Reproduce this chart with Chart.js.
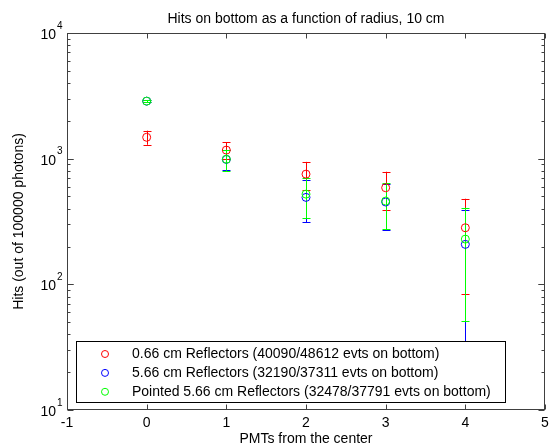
<!DOCTYPE html>
<html><head><meta charset="utf-8">
<script src="https://cdn.jsdelivr.net/npm/chart.js@4/dist/chart.umd.min.js"></script>
<style>html,body{margin:0;padding:0;background:#fff}#wrap{width:550px;height:448px}</style>
</head><body><div id="wrap"><canvas id="c" width="550" height="448"></canvas></div>
<script>
const xPositions = [0, 1, 2, 3, 4];
const redValues = [1480, 1170, 753, 587, 282];
const redErrors = [190, 185, 190, 200, 198];
const blueValues = [2870, 986, 492, 452, 208];
const blueErrors = [60, 180, 180, 180, 182];
const greenValues = [2870, 990, 522, 460, 229];
const greenErrors = [50, 190, 185, 185, 178];
const xTicks = [-1, 0, 1, 2, 3, 4, 5];
const yTicks = [1, 2, 3, 4]; // exponents of 10
const seriesLabels = [
  '0.66 cm Reflectors (40090/48612 evts on bottom)',
  '5.66 cm Reflectors (32190/37311 evts on bottom)',
  'Pointed 5.66 cm Reflectors (32478/37791 evts on bottom)'
];
const titleText = 'Hits on bottom as a function of radius, 10 cm';
const xLabel = 'PMTs from the center';
const yLabel = 'Hits (out of 100000 photons)';

const FONT = '"Liberation Sans", Arial, sans-serif';
const colors = ['#ff0000', '#0000ff', '#00ff00'];
const vals = [redValues, blueValues, greenValues];
const errs = [redErrors, blueErrors, greenErrors];

function mk(i) {
  return {
    label: seriesLabels[i],
    data: xPositions.map((x, k) => ({x: x, y: vals[i][k]})),
    borderColor: colors[i], backgroundColor: 'rgba(0,0,0,0)',
    pointBorderColor: colors[i], pointBackgroundColor: 'rgba(0,0,0,0)',
    pointRadius: 4, pointHoverRadius: 4, borderWidth: 1, pointBorderWidth: 1, pointStyle: 'circle',
    order: 2 - i,
    errors: errs[i]
  };
}

const drawPlugin = {
  id: 'matlab',
  beforeDatasetsDraw(chart) {
    const ctx = chart.ctx, xs = chart.scales.x, ys = chart.scales.y;
    ctx.save();
    ctx.lineWidth = 1;
    chart.data.datasets.forEach(ds => {
      ctx.strokeStyle = ds.borderColor;
      ds.data.forEach((p, k) => {
        const e = ds.errors[k];
        const px = Math.round(xs.getPixelForValue(p.x)) + 0.5;
        let lo = p.y - e, hi = p.y + e;
        const pyHi = ys.getPixelForValue(hi);
        const pyLo = lo > 0 ? ys.getPixelForValue(lo) : chart.chartArea.bottom;
        ctx.beginPath();
        ctx.moveTo(px, pyHi); ctx.lineTo(px, pyLo);
        ctx.moveTo(px - 4, Math.round(pyHi) + 0.5); ctx.lineTo(px + 4, Math.round(pyHi) + 0.5);
        ctx.moveTo(px - 4, Math.round(pyLo) + 0.5); ctx.lineTo(px + 4, Math.round(pyLo) + 0.5);
        ctx.stroke();
      });
    });
    ctx.restore();
  },
  afterDraw(chart) {
    const ctx = chart.ctx, xs = chart.scales.x, ys = chart.scales.y, a = chart.chartArea;
    const L = Math.round(a.left) + 0.5, R = Math.round(a.right) - 0.5, T = Math.round(a.top) + 0.5, B = Math.round(a.bottom) - 0.5;
    ctx.save();
    // legend box
    const lx = 76.5, ly = 341.5, lw = 429, lh = 61;
    ctx.fillStyle = '#fff';
    ctx.fillRect(lx, ly, lw, lh);
    ctx.strokeStyle = '#000'; ctx.lineWidth = 1;
    ctx.strokeRect(lx, ly, lw, lh);
    ctx.font = '14px ' + FONT;
    ctx.textBaseline = 'middle'; ctx.textAlign = 'left';
    seriesLabels.forEach((t, i) => {
      const yy = 354 + i * 18.9;
      ctx.strokeStyle = colors[i];
      ctx.beginPath(); ctx.arc(105, yy, 3.5, 0, Math.PI * 2); ctx.stroke();
      ctx.fillStyle = '#000';
      ctx.fillText(t, 132, yy + 0.5);
    });
    // axes box
    ctx.strokeStyle = '#404040';
    ctx.strokeRect(L, T, R - L, B - T);
    ctx.beginPath();
    xTicks.forEach(v => {
      const px = Math.round(xs.getPixelForValue(v)) + 0.5;
      ctx.moveTo(px, B); ctx.lineTo(px, B - 5);
      ctx.moveTo(px, T); ctx.lineTo(px, T + 5);
    });
    for (let d = 1; d < 4; d++) {
      for (let m = 1; m <= 10; m++) {
        const v = m * Math.pow(10, d);
        const py = Math.round(ys.getPixelForValue(v)) + 0.5;
        const len = (m === 1 || m === 10) ? 6 : 3;
        ctx.moveTo(L, py); ctx.lineTo(L + len, py);
        ctx.moveTo(R, py); ctx.lineTo(R - len, py);
      }
    }
    ctx.stroke();
    // x tick labels
    ctx.fillStyle = '#000';
    ctx.font = '14px ' + FONT;
    ctx.textAlign = 'center'; ctx.textBaseline = 'middle';
    xTicks.forEach(v => ctx.fillText(String(v), xs.getPixelForValue(v), 423));
    // y tick labels
    yTicks.forEach(e => {
      const py = ys.getPixelForValue(Math.pow(10, e));
      ctx.font = '14px ' + FONT; ctx.textAlign = 'right'; ctx.textBaseline = 'middle';
      ctx.fillText('10', 56, py + 2);
      ctx.font = '10px ' + FONT; ctx.textAlign = 'left';
      ctx.fillText(String(e), 57, py - 7);
    });
    // title & labels
    ctx.font = '14px ' + FONT; ctx.textAlign = 'center'; ctx.textBaseline = 'alphabetic';
    ctx.fillText(titleText, (a.left + a.right) / 2, 23);
    ctx.fillText(xLabel, (a.left + a.right) / 2, 443);
    ctx.translate(23, (a.top + a.bottom) / 2);
    ctx.rotate(-Math.PI / 2);
    ctx.fillText(yLabel, 0, 0);
    ctx.restore();
  }
};

new Chart(document.getElementById('c'), {
  type: 'scatter',
  data: { datasets: [mk(0), mk(1), mk(2)] },
  options: {
    responsive: false, animation: false, devicePixelRatio: 1,
    layout: { padding: { left: 67, right: 5, top: 33, bottom: 38 } },
    plugins: { legend: { display: false }, title: { display: false }, tooltip: { enabled: false } },
    scales: {
      x: { type: 'linear', min: -1, max: 5, display: false },
      y: { type: 'logarithmic', min: 10, max: 10000, display: false }
    }
  },
  plugins: [drawPlugin]
});
</script></body></html>
